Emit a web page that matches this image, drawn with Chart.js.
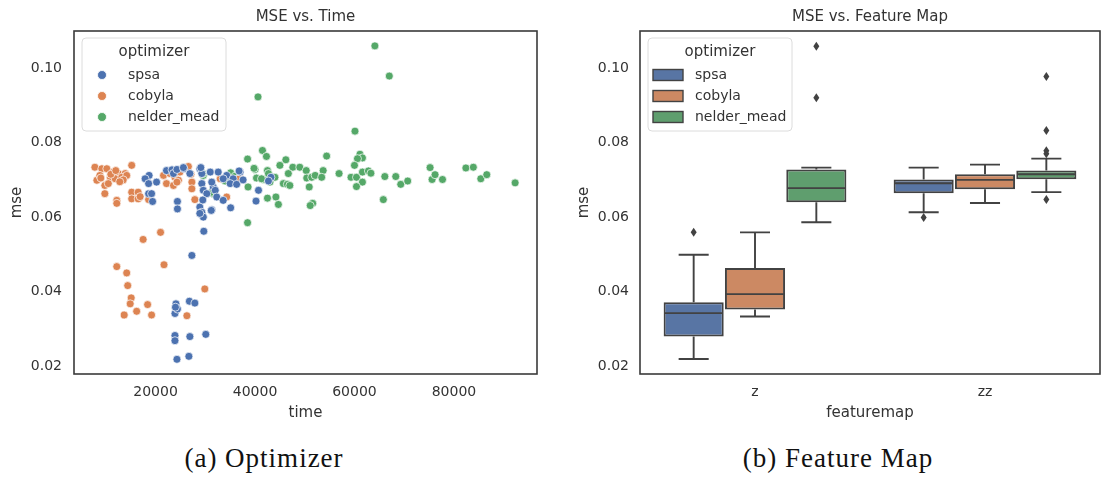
<!DOCTYPE html>
<html>
<head>
<meta charset="utf-8">
<script src="https://cdn.jsdelivr.net/npm/chart.js@4.4.0/dist/chart.umd.min.js"></script>
<style>
  html, body { margin: 0; padding: 0; background: #fff; }
  body { width: 1102px; height: 477px; position: relative; overflow: hidden; }
  canvas { position: absolute; top: 0; }
  #timeChart { left: 0; }
  #mapChart { left: 560px; }
  .caption {
    position: absolute; top: 445px; font-family: "Liberation Serif", serif;
    font-size: 27px; line-height: 27px; letter-spacing: 1px; color: #111;
    transform: translateX(-50%); white-space: nowrap;
  }
</style>
</head>
<body>
<canvas id="timeChart" width="550" height="430"></canvas>
<canvas id="mapChart" width="542" height="430"></canvas>
<div class="caption" style="left:264px">(a) Optimizer</div>
<div class="caption" style="left:838px">(b) Feature Map</div>

<script>
// ---- data ----
const optimizers = ['spsa', 'cobyla', 'nelder_mead'];
const featureMaps = ['z', 'zz'];
const timeTicks = [20000, 40000, 60000, 80000];
const mseTicks = [0.02, 0.04, 0.06, 0.08, 0.10];

const spsaTime = [18700, 17900, 18600, 20200, 22200, 23300, 23600, 24300, 25700, 26900, 28900, 29300,
    31000, 32600, 34300, 35600, 37000, 18600, 19200, 19400, 29300, 29600, 30300, 31600, 32000, 32300,
    33600, 24400, 24400, 28900, 29300, 29600, 31300, 35100, 40200, 29700, 27300, 26800, 27900, 24100,
    23900, 24400, 24000, 30100, 23900, 23900, 26900, 26700, 24300, 25600, 29100, 36800, 35000, 33600,
    36300, 37600, 40700, 29500, 31200, 28900, 43200, 42700, 31300];
const spsaMse = [0.0712, 0.0703, 0.0690, 0.0694, 0.0725, 0.0727, 0.0717, 0.0728, 0.0730, 0.0717, 0.0730, 0.0717,
    0.0721, 0.0721, 0.0712, 0.0703, 0.0721, 0.0663, 0.0663, 0.0642, 0.0690, 0.0672, 0.0663, 0.0681, 0.0672, 0.0654,
    0.0645, 0.0642, 0.0622, 0.0627, 0.0613, 0.0600, 0.0620, 0.0625, 0.0643, 0.0562, 0.0497, 0.0374, 0.0369, 0.0367,
    0.0341, 0.0353, 0.0358, 0.0285, 0.0282, 0.0268, 0.0279, 0.0226, 0.0218, 0.0733, 0.0733, 0.0724, 0.0690, 0.0703,
    0.0688, 0.0700, 0.0672, 0.0646, 0.0618, 0.0610, 0.0707, 0.0697, 0.0694];

const cobylaTime = [7800, 9200, 10200, 11500, 12500, 13900, 15200, 8200, 9800, 8800, 10900, 11900, 13200,
    14200, 9800, 12200, 12200, 15200, 16500, 15200, 16500, 16900, 18600, 21600, 22900, 23900, 24600,
    24900, 26600, 22200, 23600, 24300, 27300, 27300, 27900, 34300, 37000, 27100, 36800, 33000, 9000,
    11000, 12000, 13500, 10500, 12800, 17500, 21000, 21700, 12200, 14200, 14400, 29900, 15100, 14900,
    18400, 16200, 13700, 19200, 26300];
const cobylaMse = [0.0734, 0.0730, 0.0730, 0.0721, 0.0717, 0.0717, 0.0739, 0.0699, 0.0685, 0.0712, 0.0707, 0.0703, 0.0707,
    0.0712, 0.0663, 0.0645, 0.0637, 0.0667, 0.0667, 0.0649, 0.0649, 0.0655, 0.0647, 0.0712, 0.0717, 0.0707, 0.0699,
    0.0721, 0.0736, 0.0690, 0.0685, 0.0694, 0.0694, 0.0676, 0.0647, 0.0654, 0.0706, 0.0715, 0.0703, 0.0703, 0.0705,
    0.0715, 0.0725, 0.0700, 0.0690, 0.0695, 0.0540, 0.0559, 0.0472, 0.0467, 0.0450, 0.0416, 0.0407, 0.0383, 0.0367,
    0.0365, 0.0347, 0.0337, 0.0337, 0.0335];

const nelderTime = [64100, 67000, 40600, 60100, 41500, 42300, 38500, 54400, 61100, 61600, 60600, 60000,
    46200, 45000, 47600, 49000, 50300, 53700, 46700, 42500, 40000, 40300, 41700, 44000, 43000, 50400,
    51400, 52100, 53400, 56900, 59300, 60400, 61600, 62800, 63300, 61600, 60400, 66100, 68300, 69300,
    70700, 75200, 75600, 76200, 77700, 82400, 83900, 85400, 86600, 92300, 65800, 50900, 45700, 46500,
    47000, 44200, 42500, 44700, 51600, 51100, 38500, 38600, 41300, 42700, 35100, 29600, 31600, 29500,
    31300, 39800, 34000, 36000];
const nelderMse = [0.1060, 0.0979, 0.0923, 0.0831, 0.0779, 0.0763, 0.0756, 0.0764, 0.0769, 0.0759, 0.0757, 0.0739,
    0.0754, 0.0739, 0.0734, 0.0734, 0.0725, 0.0725, 0.0717, 0.0725, 0.0728, 0.0705, 0.0701, 0.0707, 0.0694, 0.0705,
    0.0707, 0.0712, 0.0707, 0.0717, 0.0707, 0.0707, 0.0721, 0.0724, 0.0718, 0.0694, 0.0682, 0.0709, 0.0709, 0.0688,
    0.0697, 0.0733, 0.0701, 0.0714, 0.0701, 0.0732, 0.0734, 0.0703, 0.0714, 0.0692, 0.0647, 0.0681, 0.0690, 0.0688,
    0.0685, 0.0654, 0.0651, 0.0634, 0.0637, 0.0631, 0.0585, 0.0681, 0.0703, 0.0717, 0.0719, 0.0712, 0.0663, 0.0717,
    0.0667, 0.0731, 0.0697, 0.0710];

// box stats, one row per optimizer, one column per feature map
const boxLow = [[0.0219, 0.0613], [0.0333, 0.0638], [0.0586, 0.0667]];
const boxQ1 = [[0.0279, 0.0664], [0.0352, 0.0675], [0.0640, 0.0702]];
const boxMed = [[0.0342, 0.0691], [0.0393, 0.0700], [0.0678, 0.0715]];
const boxQ3 = [[0.0371, 0.0701], [0.0463, 0.0715], [0.0728, 0.0725]];
const boxHigh = [[0.0499, 0.0733], [0.0559, 0.0741], [0.0733, 0.0757]];
const boxOutliers = [
    [[0.0559], [0.0599]],
    [[], []],
    [[0.1059, 0.0921], [0.0978, 0.0833, 0.0778, 0.0770, 0.0647]]
];

// ---- style ----
const pointColors = ['#4c72b0', '#dd8452', '#55a868'];
const boxColors = ['#5875a4', '#cc8963', '#5f9e6e'];
const lineGray = '#424242';
const textColor = '#333333';
const fontFamily = '"DejaVu Sans", sans-serif';
const tickFont = { family: fontFamily, size: 14 };
const labelFont = { family: fontFamily, size: 15 };

Chart.defaults.animation = false;
Chart.defaults.color = textColor;

function frameAndLegend(kind) {
    return {
        id: 'frame_' + kind,
        afterDatasetsDraw(chart) {
            const { ctx, chartArea: a } = chart;
            ctx.save();
            ctx.strokeStyle = '#3a3a3a';
            ctx.lineWidth = 1.6;
            ctx.strokeRect(a.left, a.top, a.right - a.left, a.bottom - a.top);
            ctx.restore();
        },
        afterDraw(chart) {
            const { ctx, chartArea: a } = chart;
            const x0 = a.left + 8, y0 = a.top + 7, w = 144, h = 93;
            ctx.save();
            ctx.beginPath();
            ctx.roundRect(x0, y0, w, h, 4);
            ctx.fillStyle = 'rgba(255,255,255,0.85)';
            ctx.fill();
            ctx.strokeStyle = '#dcdcdc';
            ctx.lineWidth = 1;
            ctx.stroke();
            ctx.fillStyle = textColor;
            ctx.textBaseline = 'middle';
            ctx.textAlign = 'center';
            ctx.font = '15px ' + fontFamily;
            ctx.fillText('optimizer', x0 + w / 2, y0 + 14);
            optimizers.forEach((name, i) => {
                let cy = y0 + 37 + i * 21;
                if (kind === 'scatter') {
                    ctx.beginPath();
                    ctx.arc(x0 + 20, cy, 4.5, 0, Math.PI * 2);
                    ctx.fillStyle = pointColors[i];
                    ctx.fill();
                    ctx.strokeStyle = '#fff';
                    ctx.lineWidth = 0.8;
                    ctx.stroke();
                } else {
                    ctx.fillStyle = boxColors[i];
                    ctx.fillRect(x0 + 5, cy - 5.5, 30, 11);
                    ctx.strokeStyle = lineGray;
                    ctx.lineWidth = 1.4;
                    ctx.strokeRect(x0 + 5, cy - 5.5, 30, 11);
                }
                ctx.fillStyle = textColor;
                ctx.textAlign = 'left';
                ctx.font = '14px ' + fontFamily;
                ctx.fillText(name, x0 + (kind === 'scatter' ? 46 : 47), cy);
            });
            ctx.restore();
        }
    };
}

const whiskers = {
    id: 'whiskers',
    afterDatasetsDraw(chart) {
        const { ctx } = chart;
        const yScale = chart.scales.y;
        ctx.save();
        ctx.strokeStyle = lineGray;
        ctx.fillStyle = lineGray;
        ctx.lineWidth = 1.9;
        chart.data.datasets.forEach((ds, i) => {
            chart.getDatasetMeta(i).data.forEach((bar, j) => {
                const x = bar.x, half = bar.width / 2, cap = bar.width / 4;
                const yq1 = yScale.getPixelForValue(boxQ1[i][j]);
                const yq3 = yScale.getPixelForValue(boxQ3[i][j]);
                const ylo = yScale.getPixelForValue(boxLow[i][j]);
                const yhi = yScale.getPixelForValue(boxHigh[i][j]);
                const ymed = yScale.getPixelForValue(boxMed[i][j]);
                ctx.beginPath();
                ctx.moveTo(x, yq1); ctx.lineTo(x, ylo);
                ctx.moveTo(x - cap, ylo); ctx.lineTo(x + cap, ylo);
                ctx.moveTo(x, yq3); ctx.lineTo(x, yhi);
                ctx.moveTo(x - cap, yhi); ctx.lineTo(x + cap, yhi);
                ctx.moveTo(x - half + 1, ymed); ctx.lineTo(x + half - 1, ymed);
                ctx.stroke();
                boxOutliers[i][j].forEach(v => {
                    const y = yScale.getPixelForValue(v);
                    ctx.beginPath();
                    ctx.moveTo(x, y - 4.5); ctx.lineTo(x + 3, y);
                    ctx.lineTo(x, y + 4.5); ctx.lineTo(x - 3, y);
                    ctx.closePath();
                    ctx.fill();
                });
            });
        });
        ctx.restore();
    }
};

function yAxis(width, titlePad, tickPad) {
    return {
        min: 0.01785, max: 0.1100,
        afterFit: s => { s.width = width; },
        afterBuildTicks: s => { s.ticks = mseTicks.map(v => ({ value: v })); },
        grid: { display: false, drawTicks: false },
        border: { display: false },
        ticks: { padding: tickPad, font: tickFont, color: textColor, callback: v => v.toFixed(2) },
        title: { display: true, text: 'mse', font: labelFont, color: textColor, padding: { top: titlePad, bottom: 0 } }
    };
}

function topTitle(text) {
    return {
        axis: 'x', type: 'linear', position: 'top', min: 0, max: 1,
        afterFit: s => { s.height = 31; },
        grid: { display: false, drawTicks: false },
        border: { display: false },
        ticks: { display: false },
        title: { display: true, text: text, font: labelFont, color: textColor, padding: { top: 8, bottom: 0 } }
    };
}

// ---- left: scatter ----
const seriesTime = [spsaTime, cobylaTime, nelderTime];
const seriesMse = [spsaMse, cobylaMse, nelderMse];

new Chart(document.getElementById('timeChart'), {
    type: 'scatter',
    data: {
        datasets: optimizers.map((name, i) => ({
            label: name,
            data: seriesTime[i].map((t, k) => ({ x: t, y: seriesMse[i][k] })),
            backgroundColor: pointColors[i],
            borderColor: '#ffffff',
            borderWidth: 0.7,
            pointRadius: 4,
            pointHoverRadius: 4
        }))
    },
    options: {
        responsive: false,
        layout: { padding: { left: 0, right: 13, top: 0, bottom: 0 } },
        plugins: { legend: { display: false }, tooltip: { enabled: false } },
        scales: {
            x: {
                type: 'linear', position: 'bottom', min: 3600, max: 96700,
                afterFit: s => { s.height = 56; },
                afterBuildTicks: s => { s.ticks = timeTicks.map(v => ({ value: v })); },
                grid: { display: false, drawTicks: false },
                border: { display: false },
                ticks: { padding: 10, font: tickFont, color: textColor, maxRotation: 0, callback: v => String(v) },
                title: { display: true, text: 'time', font: labelFont, color: textColor, padding: { top: 0, bottom: 8 } }
            },
            y: yAxis(74, 8, 12),
            top: topTitle('MSE vs. Time')
        }
    },
    plugins: [frameAndLegend('scatter')]
});

// ---- right: box plot ----
new Chart(document.getElementById('mapChart'), {
    type: 'bar',
    data: {
        labels: featureMaps,
        datasets: optimizers.map((name, i) => ({
            label: name,
            data: featureMaps.map((_, j) => [boxQ1[i][j], boxQ3[i][j]]),
            backgroundColor: boxColors[i],
            borderColor: lineGray,
            borderWidth: 2,
            borderSkipped: false,
            categoryPercentage: 0.8,
            barPercentage: 0.98
        }))
    },
    options: {
        responsive: false,
        layout: { padding: { left: 0, right: 2, top: 0, bottom: 0 } },
        plugins: { legend: { display: false }, tooltip: { enabled: false } },
        scales: {
            x: {
                type: 'category', position: 'bottom',
                afterFit: s => { s.height = 56; },
                grid: { display: false, drawTicks: false },
                border: { display: false },
                ticks: { padding: 10, font: tickFont, color: textColor },
                title: { display: true, text: 'featuremap', font: labelFont, color: textColor, padding: { top: 0, bottom: 8 } }
            },
            y: yAxis(80, 15, 11),
            top: topTitle('MSE vs. Feature Map')
        }
    },
    plugins: [whiskers, frameAndLegend('box')]
});
</script>
</body>
</html>
